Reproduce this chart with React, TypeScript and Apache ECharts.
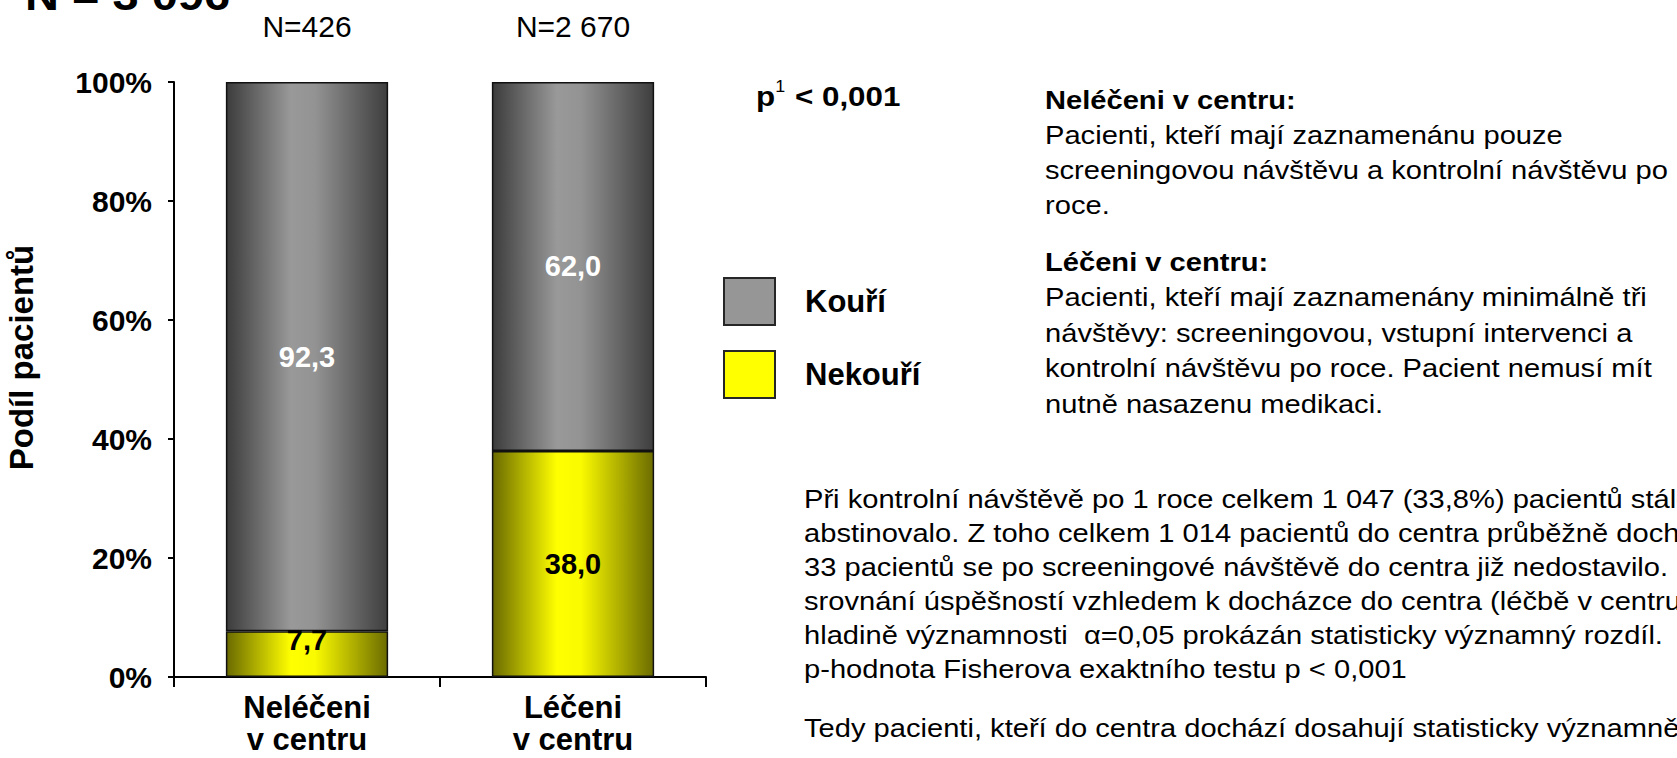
import React, { useEffect, useRef } from "react";
import * as echarts from "echarts";

const FONT = '"Liberation Sans", Arial, Helvetica, sans-serif';

const categories = ["Neléčeni\nv centru", "Léčeni\nv centru"];
const groupCounts = ["N=426", "N=2 670"];
const seriesNames = ["Kouří", "Nekouří"];
const kouri = [92.3, 62.0];
const nekouri = [7.7, 38.0];
const yTickStep = 20;
const yMax = 100;

const totalTitle = "N = 3 096";
const pValueText = ["p", "1", " < 0,001"];

const block1 = [
  "Neléčeni v centru:",
  "Pacienti, kteří mají zaznamenánu pouze",
  "screeningovou návštěvu a kontrolní návštěvu po",
  "roce.",
];
const block2 = [
  "Léčeni v centru:",
  "Pacienti, kteří mají zaznamenány minimálně tři",
  "návštěvy: screeningovou, vstupní intervenci a",
  "kontrolní návštěvu po roce. Pacient nemusí mít",
  "nutně nasazenu medikaci.",
];
const block3 = [
  "Při kontrolní návštěvě po 1 roce celkem 1 047 (33,8%) pacientů stále",
  "abstinovalo. Z toho celkem 1 014 pacientů do centra průběžně docházelo,",
  "33 pacientů se po screeningové návštěvě do centra již nedostavilo. Při",
  "srovnání úspěšností vzhledem k docházce do centra (léčbě v centru)",
  "hladině významnosti  α=0,05 prokázán statisticky významný rozdíl.",
  "p-hodnota Fisherova exaktního testu p < 0,001",
];
const block4 = ["Tedy pacienti, kteří do centra dochází dosahují statisticky významně"];

const fmt = (p: any) => Number(p.value).toFixed(1).replace(".", ",");

export default function App() {
  const ref = useRef<HTMLDivElement>(null);
  useEffect(() => {
    if (!ref.current) return;
    const chart = echarts.init(ref.current, undefined, { renderer: "svg" });

    const grayGrad = new echarts.graphic.LinearGradient(0, 0, 1, 0, [
      { offset: 0, color: "#3c3c3c" },
      { offset: 0.4, color: "#999999" },
      { offset: 0.55, color: "#939393" },
      { offset: 1, color: "#3e3e3e" },
    ]);
    const yellowGrad = new echarts.graphic.LinearGradient(0, 0, 1, 0, [
      { offset: 0, color: "#6a6a00" },
      { offset: 0.4, color: "#ffff00" },
      { offset: 0.55, color: "#fafa00" },
      { offset: 1, color: "#6c6c00" },
    ]);

    const textLine = (
      text: string,
      x: number,
      y: number,
      size: number,
      bold: boolean
    ) => ({
      type: "text",
      x,
      y,
      scaleX: 1.12,
      silent: true,
      style: {
        text,
        fontSize: size,
        fontWeight: bold ? "bold" : "normal",
        fontFamily: FONT,
        fill: "#000",
        align: "left",
        verticalAlign: "middle",
      },
    });

    const graphics: any[] = [];
    graphics.push(textLine(totalTitle, 25, -5, 42, true));
    graphics.push({
      type: "text",
      x: 756,
      y: 96,
      scaleX: 1.12,
      silent: true,
      style: {
        text: `{b|${pValueText[0]}}{s|${pValueText[1]}}{b|${pValueText[2]}}`,
        fontFamily: FONT,
        align: "left",
        verticalAlign: "middle",
        rich: {
          b: { fontSize: 28, fontWeight: "bold", fontFamily: FONT, fill: "#000", lineHeight: 34 },
          s: { fontSize: 16, fontWeight: "normal", fontFamily: FONT, fill: "#000", verticalAlign: "top", lineHeight: 34, padding: [0, 1, 0, 0] },
        },
      },
    });
    block1.forEach((t, i) => graphics.push(textLine(t, 1045, 100 + i * 35, 26, i === 0)));
    block2.forEach((t, i) => graphics.push(textLine(t, 1045, 262 + i * 35.5, 26, i === 0)));
    block3.forEach((t, i) => graphics.push(textLine(t, 804, 499 + i * 34, 26, false)));
    block4.forEach((t, i) => graphics.push(textLine(t, 804, 728 + i * 34, 26, false)));

    const option: any = {
      animation: false,
      backgroundColor: "#ffffff",
      textStyle: { fontFamily: FONT },
      grid: { left: 174, right: 971, top: 82, bottom: 81, containLabel: false },
      legend: {
        orient: "vertical",
        left: 723,
        top: 277,
        padding: 0,
        itemWidth: 51,
        itemHeight: 47,
        itemGap: 24,
        selectedMode: false,
        icon: "rect",
        data: [
          { name: seriesNames[0], itemStyle: { color: "#969696", borderColor: "#262626", borderWidth: 2 } },
          { name: seriesNames[1], itemStyle: { color: "#ffff00", borderColor: "#262626", borderWidth: 2 } },
        ],
        textStyle: {
          fontSize: 31,
          fontWeight: "bold",
          color: "#000",
          fontFamily: FONT,
          padding: [0, 0, 0, 25],
        },
      },
      xAxis: [
        {
          type: "category",
          data: categories,
          axisLine: { lineStyle: { color: "#000", width: 2 } },
          axisTick: { show: true, length: 10, lineStyle: { color: "#000", width: 2 } },
          axisLabel: {
            interval: 0,
            fontSize: 31,
            fontWeight: "bold",
            color: "#000",
            lineHeight: 32,
            margin: 14,
            fontFamily: FONT,
          },
        },
        {
          type: "category",
          position: "top",
          data: groupCounts,
          axisLine: { show: false },
          axisTick: { show: false },
          axisLabel: { interval: 0, fontSize: 30, color: "#000", lineHeight: 30, margin: 41, fontFamily: FONT },
        },
      ],
      yAxis: {
        type: "value",
        min: 0,
        max: yMax,
        interval: yTickStep,
        splitLine: { show: false },
        axisLine: { show: true, lineStyle: { color: "#000", width: 2 } },
        axisTick: { show: true, length: 6, lineStyle: { color: "#000", width: 2 } },
        axisLabel: {
          formatter: "{value}%",
          fontSize: 30,
          fontWeight: "bold",
          color: "#000",
          margin: 22,
          fontFamily: FONT,
        },
        name: "Podíl pacientů",
        nameLocation: "middle",
        nameGap: 136,
        nameRotate: 90,
        nameTextStyle: {
          fontSize: 33,
          fontWeight: "bold",
          color: "#000",
          fontFamily: FONT,
          padding: [0, 0, 0, 44],
        },
      },
      series: [
        {
          name: seriesNames[1],
          type: "bar",
          stack: "total",
          barWidth: "61%",
          data: nekouri.map((v) => (v < 10 ? { value: v, label: { offset: [0, -14] } } : v)),
          itemStyle: { color: yellowGrad, borderColor: "#111", borderWidth: 1.5 },
          label: { show: true, position: "inside", formatter: fmt, fontSize: 29, fontWeight: "bold", color: "#000", fontFamily: FONT },
        },
        {
          name: seriesNames[0],
          type: "bar",
          stack: "total",
          barWidth: "61%",
          data: kouri,
          itemStyle: { color: grayGrad, borderColor: "#111", borderWidth: 1.5 },
          label: { show: true, position: "inside", formatter: fmt, fontSize: 29, fontWeight: "bold", color: "#fff", fontFamily: FONT },
        },
      ],
      graphic: graphics,
    };
    chart.setOption(option);
    return () => chart.dispose();
  }, []);

  return (
    <div
      ref={ref}
      style={{ position: "fixed", left: 0, top: 0, width: 1677, height: 758, background: "#fff" }}
    />
  );
}
